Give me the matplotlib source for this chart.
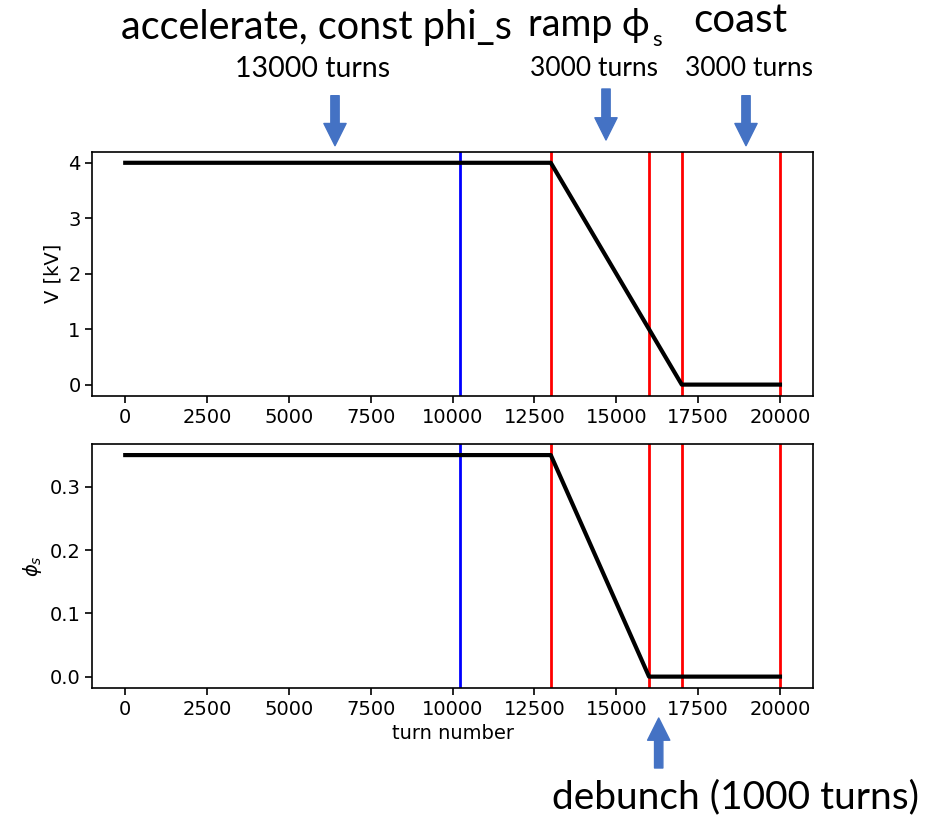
import numpy as np
import matplotlib
matplotlib.use("Agg")
import matplotlib.pyplot as plt

# program: turn number at the corners of each curve
turn_pts = [0, 13000, 17000, 20000]
volt_pts = [4.0, 4.0, 0.0, 0.0]          # kV
phi_turns = [0, 13000, 16000, 20000]
phi_pts = [0.35, 0.35, 0.0, 0.0]
red_lines = [13000, 16000, 17000, 20000]
blue_line = 10225

W, H = 928, 818
fig = plt.figure(figsize=(W / 100, H / 100), dpi=100)

def box(l, t, r, b):
    return [l / W, 1 - b / H, (r - l) / W, (b - t) / H]

ax1 = fig.add_axes(box(92.5, 151.7, 812.7, 395.7))
ax2 = fig.add_axes(box(92.5, 444, 812.7, 687.7))

for ax, xs, ys in [(ax1, turn_pts, volt_pts), (ax2, phi_turns, phi_pts)]:
    ax.plot(xs, ys, color='black', lw=3, zorder=3)
    ax.axvline(blue_line, color='blue', lw=2)
    for r in red_lines:
        ax.axvline(r, color='red', lw=2)
    ax.set_xticks([0, 2500, 5000, 7500, 10000, 12500, 15000, 17500, 20000])
    ax.tick_params(labelsize=14, length=5, width=1.2)
    for s in ax.spines.values():
        s.set_linewidth(1.2)

ax1.set_ylabel('V [kV]', fontsize=14)
ax2.set_ylabel(r'$\phi_s$', fontsize=14)
ax2.set_xlabel('turn number', fontsize=14)

# annotations in Office style
font = ['Lato', 'DejaVu Sans']
blue = '#4472C4'

def ftext(x, y, s, size, **kw):
    fig.text(x / W, 1 - y / H, s, fontsize=size, family=font,
             ha=kw.pop('ha', 'center'), va=kw.pop('va', 'center'), **kw)

ftext(316, 27, 'accelerate, const phi_s', 28.5)
ftext(313, 69, '13000 turns', 20.5)
ftext(589, 25, 'ramp ϕ', 27)
ftext(657, 40, 's', 16)
ftext(740, 20, 'coast', 29)
ftext(594, 69, '3000 turns', 19)
ftext(749, 69, '3000 turns', 19)
ftext(736, 797, 'debunch (1000 turns)', 28)

def arrow(x, y0, y1):
    fig.add_artist(matplotlib.patches.FancyArrowPatch(
        (x / W, 1 - y0 / H), (x / W, 1 - y1 / H), transform=fig.transFigure,
        arrowstyle='simple,head_length=0.8,head_width=0.8,tail_width=0.3',
        mutation_scale=20, color=blue, shrinkA=0, shrinkB=0))

arrow(335, 95.7, 145.7)
arrow(606, 89, 140)
arrow(746, 95.7, 145.7)
arrow(658.7, 768, 718)

fig.savefig('out.png', dpi=100)
